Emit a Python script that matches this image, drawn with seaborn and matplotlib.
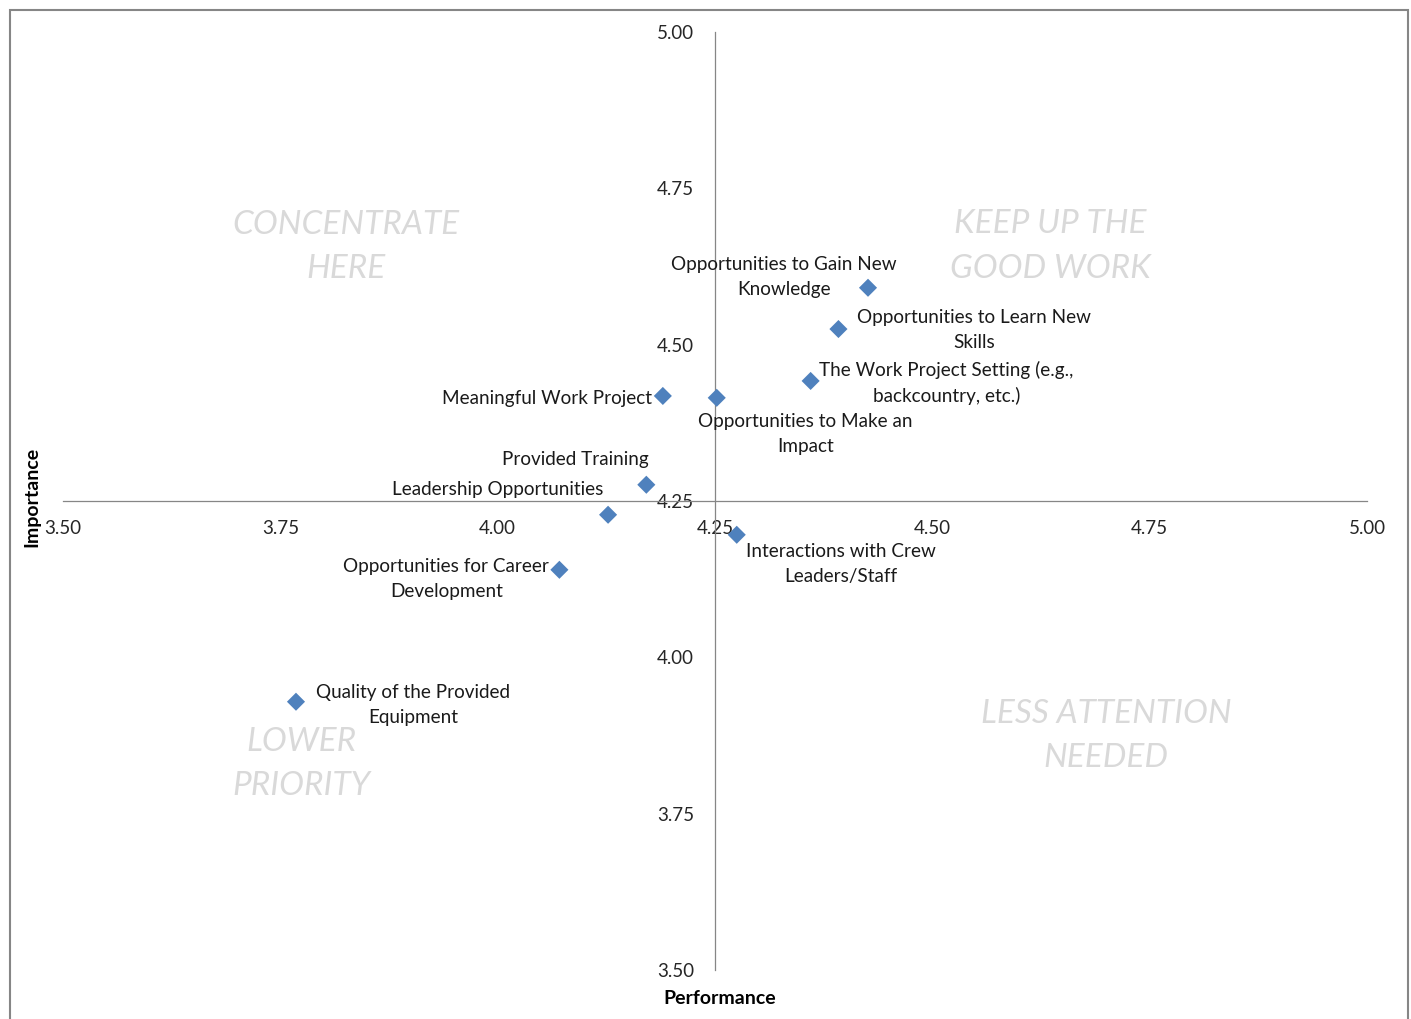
import matplotlib
matplotlib.use("Agg")
import matplotlib.pyplot as plt
import seaborn as sns
import pandas as pd
from matplotlib.patches import Rectangle

# ---- data ----
items = [
    "Opportunities to Gain New\nKnowledge",
    "Opportunities to Learn New\nSkills",
    "The Work Project Setting (e.g.,\nbackcountry, etc.)",
    "Meaningful Work Project",
    "Opportunities to Make an\nImpact",
    "Provided Training",
    "Leadership Opportunities",
    "Interactions with Crew\nLeaders/Staff",
    "Opportunities for Career\nDevelopment",
    "Quality of the Provided\nEquipment",
]
performance = [4.426, 4.392, 4.360, 4.190, 4.252, 4.171, 4.127, 4.275, 4.071, 3.768]
importance = [4.591, 4.525, 4.442, 4.418, 4.415, 4.276, 4.228, 4.196, 4.140, 3.929]
tick_values = [3.50, 3.75, 4.00, 4.25, 4.50, 4.75, 5.00]
quadrant_labels = ["CONCENTRATE\nHERE", "KEEP UP THE\nGOOD WORK",
                   "LESS ATTENTION\nNEEDED", "LOWER\nPRIORITY"]

# label placement (offset in pixels from the point, alignment)
label_offsets = [(-84, 11, "center"), (136, -1, "center"), (136, -2, "center"),
                 (-11, -3, "right"), (89, -36, "center"), (-71, 25, "center"),
                 (-5, 25, "right"), (104, -29, "center"), (-113, -9, "center"),
                 (117, -3, "center")]
quadrant_pos = [(0.217, 0.7705), (0.757, 0.7715), (0.800, 0.2495), (0.183, 0.2195)]

df = pd.DataFrame({"Performance": performance, "Importance": importance, "Item": items})

sns.set_theme(style="white")
FONT = "Lato"
plt.rcParams["font.family"] = [FONT, "DejaVu Sans"]

DPI = 100
fig = plt.figure(figsize=(14.11, 10.19), dpi=DPI)
fig.patch.set_facecolor("white")
# outer frame
fig.patches.append(Rectangle((10 / 1411, -0.01), (1408 - 10) / 1411, 1 - 10 / 1019 + 0.01,
                             transform=fig.transFigure, fill=False,
                             edgecolor="#868686", linewidth=1.5))

ax = fig.add_axes([63 / 1411, 1 - 970 / 1019, (1367 - 63) / 1411, (970 - 32) / 1019])
ax.set_facecolor("none")

sns.scatterplot(data=df, x="Performance", y="Importance", ax=ax, marker="D",
                s=85, color="#4F81BD", edgecolor="none", legend=False, zorder=3)

ax.set_xlim(3.5, 5.0)
ax.set_ylim(3.5, 5.0)
ax.set_xticks(tick_values)
ax.set_yticks(tick_values)
ax.set_xticklabels([f"{v:.2f}" for v in tick_values])
ax.set_yticklabels([f"{v:.2f}" for v in tick_values])
for s in ["top", "right"]:
    ax.spines[s].set_visible(False)
ax.spines["left"].set_position(("data", 4.25))
ax.spines["bottom"].set_position(("data", 4.25))
for s in ["left", "bottom"]:
    ax.spines[s].set_color("#868686")
    ax.spines[s].set_linewidth(0.9)
ax.tick_params(axis="both", direction="out", length=6, width=0.9, color="#868686",
               labelsize=13.5, labelcolor="#262626")
ax.tick_params(axis="x", pad=8)
ax.tick_params(axis="y", pad=9)
ax.set_xlabel("")
ax.set_ylabel("")
ax.grid(False)

px = 72.0 / DPI
for x, y, lab, (dx, dy, ha) in zip(performance, importance, items, label_offsets):
    ax.annotate(lab, (x, y), xytext=(dx * px, dy * px), textcoords="offset points",
                ha=ha, va="center", fontsize=13.6, color="#1a1a1a", linespacing=1.55,
                multialignment="center", zorder=4)

for (qx, qy), lab in zip(quadrant_pos, quadrant_labels):
    ax.text(qx, qy, lab, transform=ax.transAxes, ha="center", va="center",
            fontsize=24, style="italic", color="#D9D9D9", linespacing=1.6)

fig.text(32 / 1411, 1 - 497 / 1019, "Importance", rotation=90, ha="center", va="center",
         fontsize=14, fontweight="bold", color="#000000")
fig.text(720 / 1411, 1 - 998 / 1019, "Performance", ha="center", va="center",
         fontsize=14, fontweight="bold", color="#000000")

fig.savefig("out.png", dpi=DPI, facecolor="white")
